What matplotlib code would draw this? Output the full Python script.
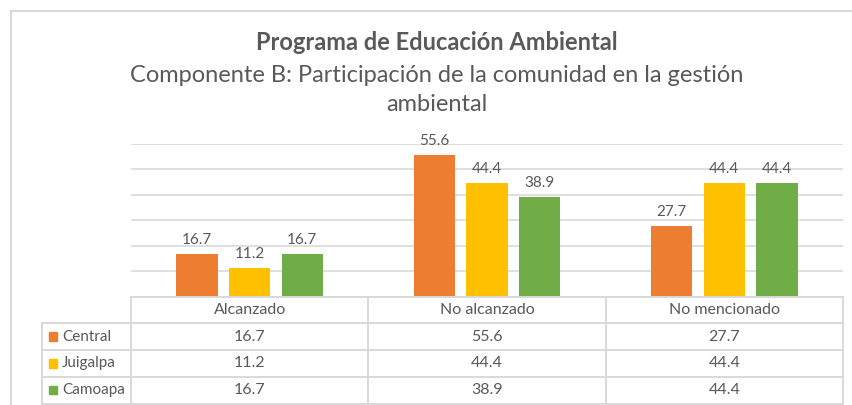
import matplotlib
matplotlib.use("Agg")
import matplotlib.pyplot as plt
from matplotlib.lines import Line2D
from matplotlib.patches import Rectangle

plt.rcParams["font.family"] = ["Lato", "DejaVu Sans"]

categories = ["Alcanzado", "No alcanzado", "No mencionado"]
series = ["Central", "Juigalpa", "Camoapa"]
central = [16.7, 55.6, 27.7]
juigalpa = [11.2, 44.4, 44.4]
camoapa = [16.7, 38.9, 44.4]
values = [central, juigalpa, camoapa]
colors = ["#ED7D31", "#FFC000", "#70AD47"]

TEXT = "#595959"
GRID = "#D9D9D9"
W, H = 852, 405

fig = plt.figure(figsize=(W / 100, H / 100), dpi=100)

# outer chart frame (top and left edges visible)
fig.add_artist(Line2D([11 / W, 1], [1 - 11 / H, 1 - 11 / H], color=GRID, lw=1.5))
fig.add_artist(Line2D([11 / W, 11 / W], [0, 1 - 11 / H], color=GRID, lw=1.5))

fig.text(437 / W, 1 - 43 / H, "Programa de Educación Ambiental", ha="center",
         va="center", fontsize=17, fontweight="bold", color=TEXT)
fig.text(437 / W, 1 - 75 / H, "Componente B: Participación de la comunidad en la gestión",
         ha="center", va="center", fontsize=17, color=TEXT)
fig.text(437 / W, 1 - 104 / H, "ambiental", ha="center", va="center",
         fontsize=17, color=TEXT)

# bar area
x0, x1 = 131, 843
ax = fig.add_axes([x0 / W, (H - 296.7) / H, (x1 - x0) / W, 153.2 / H])
bw = 0.175
step = 0.222
for i, (name, vals, col) in enumerate(zip(series, values, colors)):
    xs = [c + (i - 1) * step for c in range(len(categories))]
    bars = ax.bar(xs, vals, width=bw, color=col, zorder=3)
    for b, v in zip(bars, vals):
        ax.annotate(f"{v:.1f}", (b.get_x() + b.get_width() / 2, v),
                    xytext=(0, 5), textcoords="offset points", ha="center",
                    va="bottom", fontsize=11, color=TEXT)
ax.set_xlim(-0.5, len(categories) - 0.5)
ax.set_ylim(0, 60)
ax.set_yticks(range(0, 61, 10))
ax.yaxis.grid(True, color=GRID, lw=1.2, zorder=0)
ax.tick_params(left=False, bottom=False, labelleft=False, labelbottom=False)
for s in ax.spines.values():
    s.set_visible(False)

# data table
tab = fig.add_axes([x0 / W, (H - 403.5) / H, (x1 - x0) / W, 106.8 / H])
tab.set_xlim(-0.5, len(categories) - 0.5)
tab.set_ylim(4, 0)
tab.axis("off")
left = -0.5 - (x0 - 42) / ((x1 - x0) / len(categories))
lk = dict(color=GRID, lw=1.4, clip_on=False)
tab.plot([-0.5, 2.5], [0, 0], **lk)
for r in range(1, 5):
    tab.plot([left, 2.5], [r, r], **lk)
for c in [-0.5, 0.5, 1.5, 2.5]:
    tab.plot([c, c], [0, 4], **lk)
tab.plot([left, left], [1, 4], **lk)

for j, cat in enumerate(categories):
    tab.text(j, 0.5, cat, ha="center", va="center", fontsize=11.5, color=TEXT)
unit = (x1 - x0) / len(categories)
for i, (name, vals, col) in enumerate(zip(series, values, colors)):
    y = i + 1.5
    tab.add_patch(Rectangle((left + 7 / unit, y - 0.16), 8 / unit, 0.32,
                            color=col, clip_on=False))
    tab.text(left + 20 / unit, y, name, ha="left", va="center",
             fontsize=11, color=TEXT, clip_on=False)
    for j, v in enumerate(vals):
        tab.text(j, y, f"{v:.1f}", ha="center", va="center",
                 fontsize=11.5, color=TEXT)

fig.savefig("out.png", dpi=100, facecolor="white")
